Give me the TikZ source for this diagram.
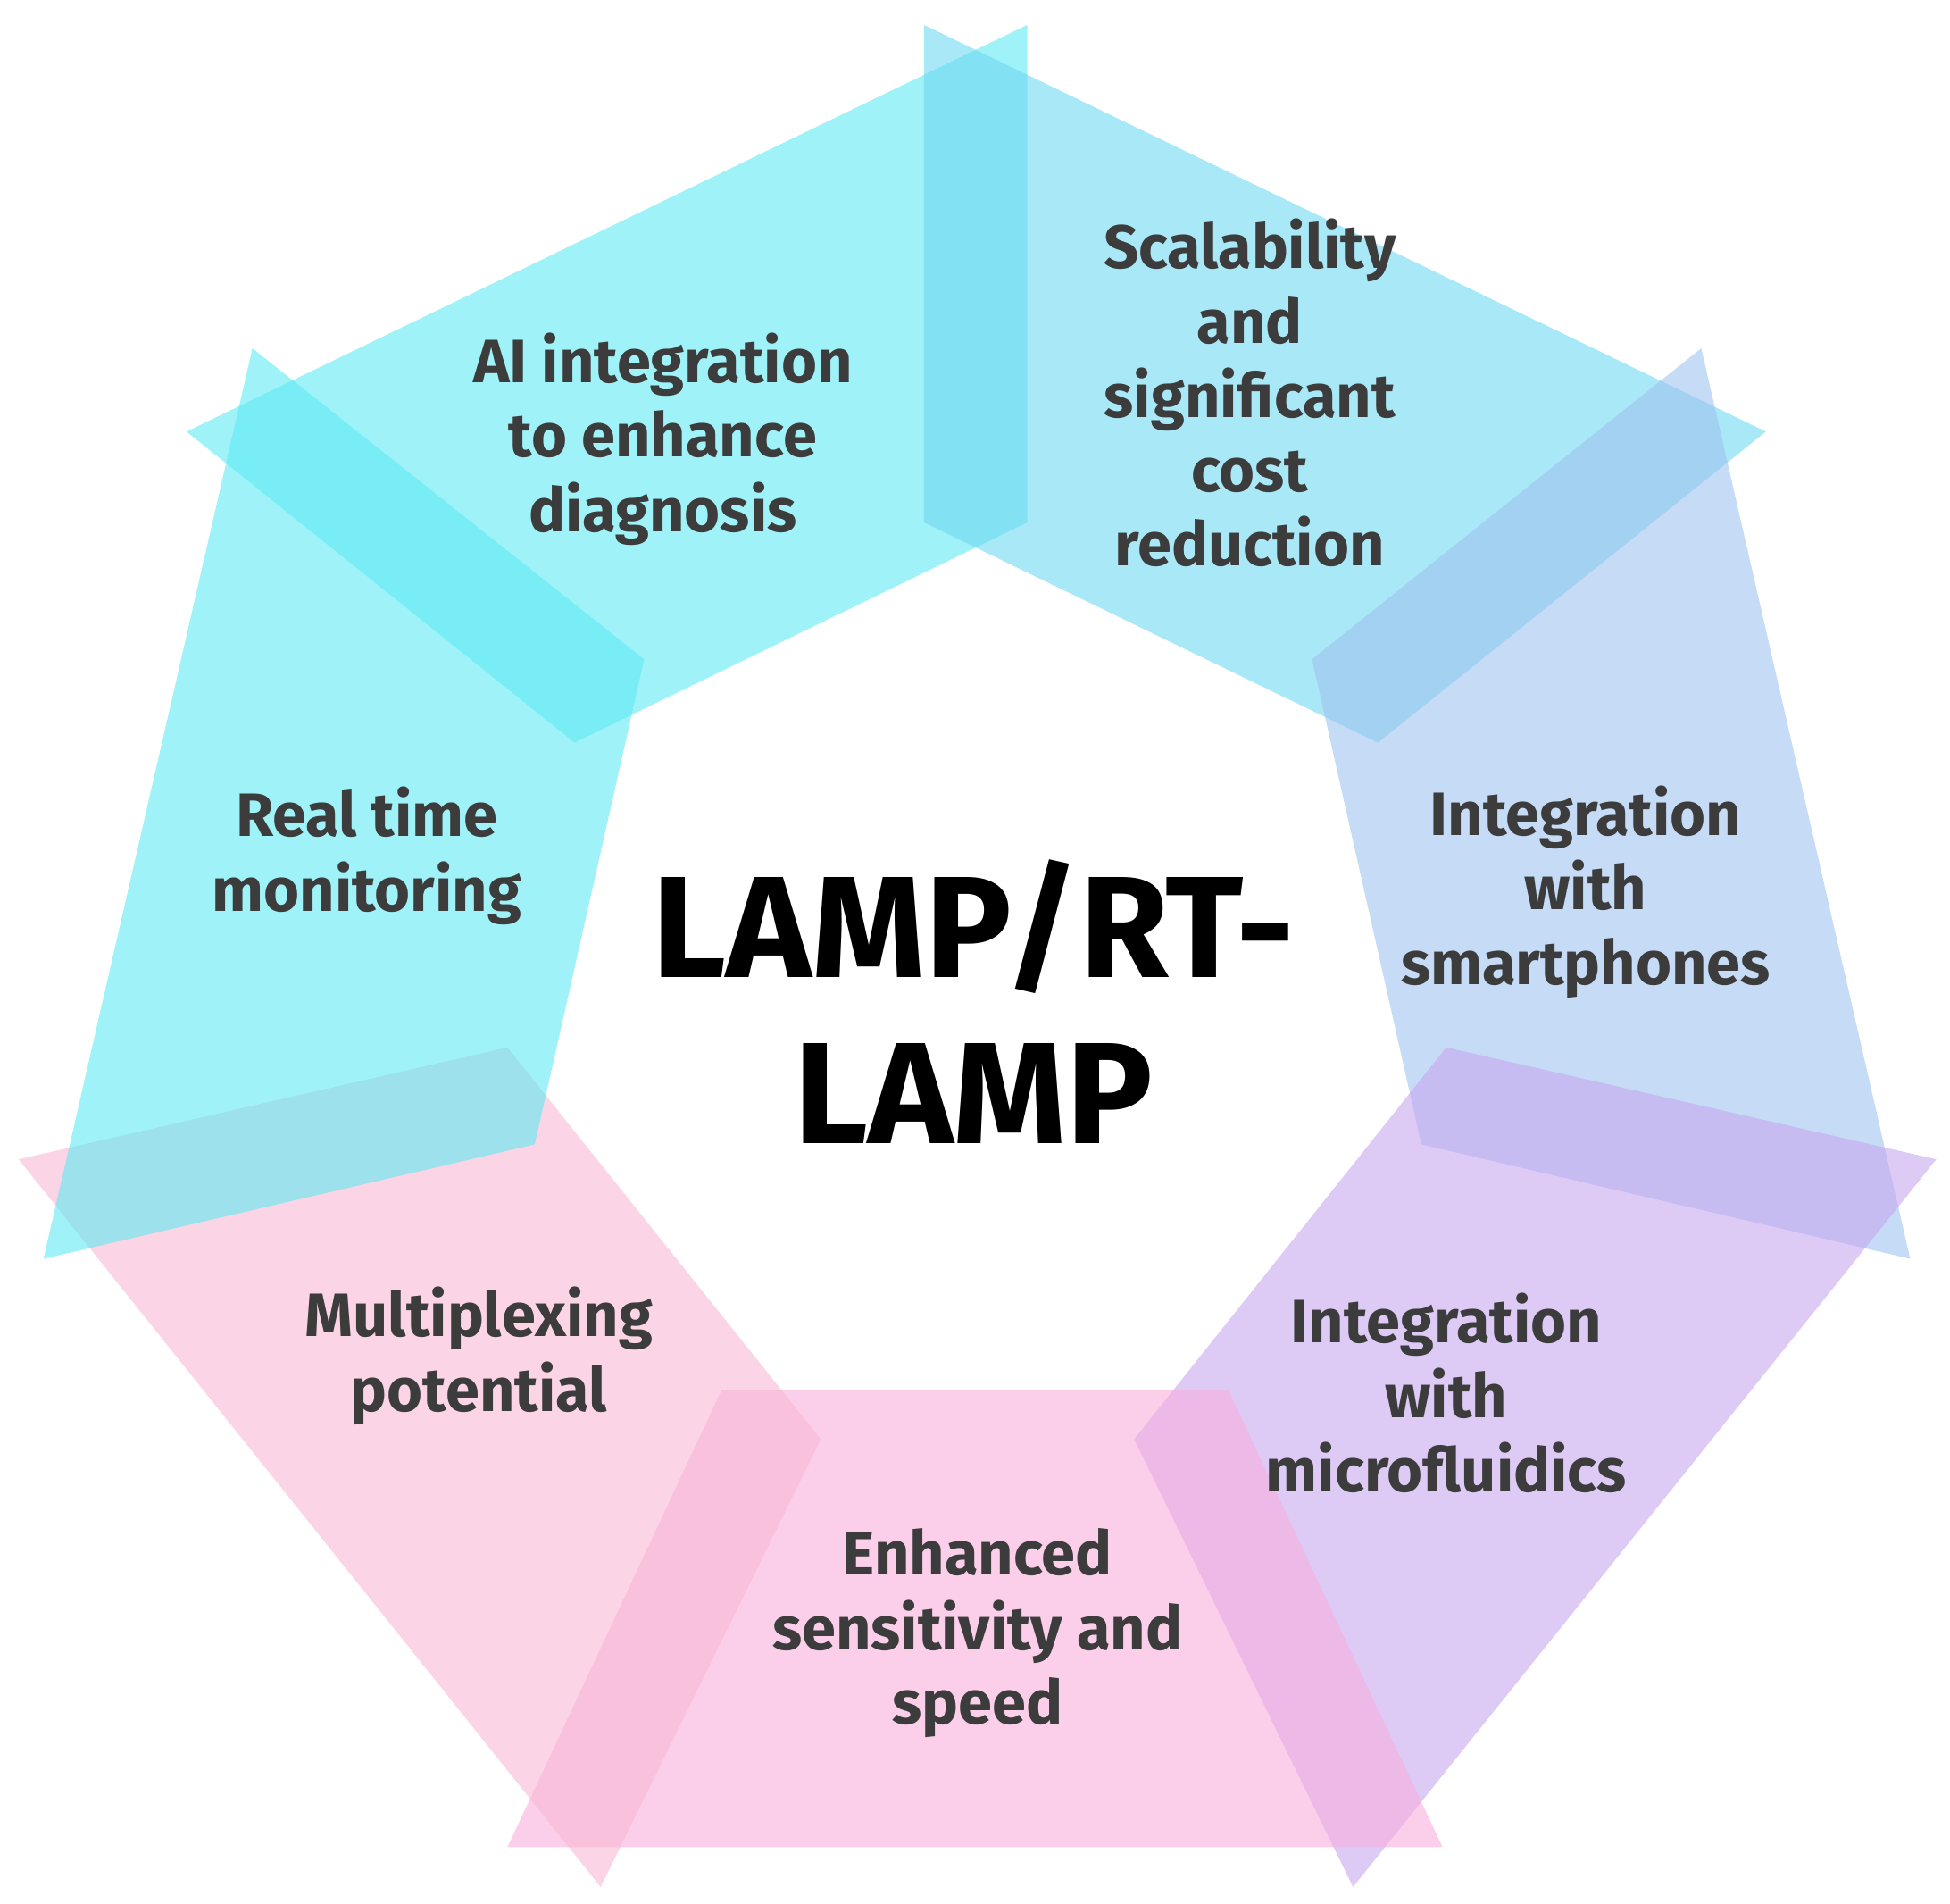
\documentclass[tikz,border=0pt]{standalone}
\usepackage{fontspec}
\setmainfont{Fira Sans}
\usepackage{tikz}
\definecolor{cyanA}{HTML}{5FEAF3}
\definecolor{cyanB}{HTML}{6FD8F2}
\definecolor{blueC}{HTML}{9EC3F0}
\definecolor{purpleD}{HTML}{C7A8F0}
\definecolor{pinkE}{HTML}{F9AEDC}
\definecolor{pinkF}{HTML}{F9B8D5}
\definecolor{textgray}{HTML}{3C3C3C}
\tikzset{blade style/.style={
		fill=#1,
		fill opacity=0.6,
		draw=none,
	},
	label style/.style={
		text=textgray,
		align=center,
		font=\fontsize{14}{17}\selectfont\bfseries,
	},
	title style/.style={
		text=black,
		align=center,
		font=\fontsize{33}{38}\selectfont\bfseries,
	}
}
\begin{document}
\begin{tikzpicture}[x=0.01cm,y=-0.01cm]
	\useasboundingbox (0,0) rectangle (1568,1530);
	
	\fill[blade style=cyanA] (150,347) -- (826,20) -- (826,420) -- (462,597) -- cycle;
	\fill[blade style=cyanB] (743,20) -- (1420,347) -- (1108,597) -- (743,420) -- cycle;
	\fill[blade style=blueC] (1368,280) -- (1536,1012) -- (1143,920) -- (1055,530) -- cycle;
	\fill[blade style=purpleD] (1557,932) -- (1088,1517) -- (912,1157) -- (1163,842) -- cycle;
	\fill[blade style=pinkE] (1160,1485) -- (408,1485) -- (580,1118) -- (988,1118) -- cycle;
	\fill[blade style=pinkF] (483,1517) -- (15,932) -- (408,842) -- (660,1157) -- cycle;
	\fill[blade style=cyanA] (35,1012) -- (203,280) -- (518,530) -- (430,920) -- cycle;
	
	\node[title style] (Lamp) at (783,805) {LAMP/RT-\\LAMP};
	
	\node[label style] (AI) at (533,353) {AI integration\\to enhance\\diagnosis};
	\node[label style] (Scale) at (1005,316) {Scalability\\and\\significant\\cost\\reduction};
	\node[label style] (Phone) at (1275,717) {Integration\\with\\smartphones};
	\node[label style] (Micro) at (1163,1120) {Integration\\with\\microfluidics};
	\node[label style] (Speed) at (786,1313) {Enhanced\\sensitivity and\\speed};
	\node[label style] (Multi) at (385,1090) {Multiplexing\\potential};
	\node[label style] (RealTime) at (295,688) {Real time\\monitoring};
\end{tikzpicture}
\end{document}
